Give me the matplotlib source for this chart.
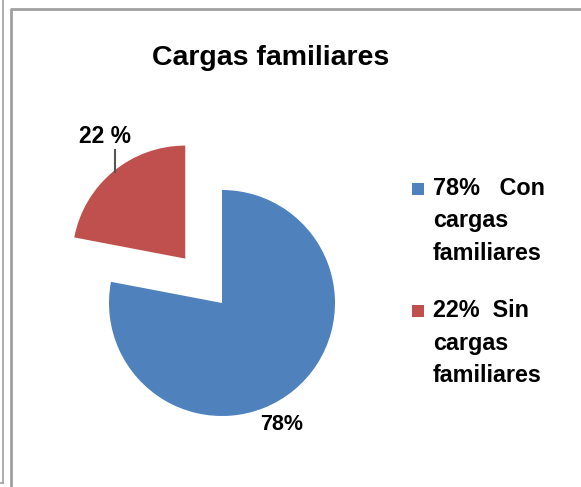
import matplotlib
matplotlib.use("Agg")
import matplotlib.pyplot as plt
from matplotlib.patches import Rectangle
from matplotlib.lines import Line2D

# Data
categories = ["Con cargas familiares", "Sin cargas familiares"]
values = [78, 22]
colors = ["#4F81BD", "#C0504D"]
legend_labels = [["78%   Con", "cargas", "familiares"], ["22%  Sin", "cargas", "familiares"]]
data_labels = ["78%", "22 %"]
title = "Cargas familiares"

W, H = 581, 487
fig = plt.figure(figsize=(W / 100, H / 100), dpi=100)
fig.patch.set_facecolor("white")
ax = fig.add_axes([0, 0, 1, 1])

def Y(y):
    return H - y

FONT = ["Liberation Sans", "DejaVu Sans"]

# Pie (explode offset is in data units here)
cx, cy, r = 222, 303, 113
ax.pie(values, colors=colors, startangle=90, counterclock=False,
       explode=[0, 0.51 * r], center=(cx, Y(cy)), radius=r,
       wedgeprops=dict(linewidth=0), frame=False)
ax.set_xlim(0, W)
ax.set_ylim(0, H)
ax.set_aspect("equal")
ax.axis("off")

# Title
ax.text(271, Y(65), title, ha="center", va="baseline", fontsize=20.5,
        fontweight="bold", family=FONT, color="black")

# Data labels
ax.text(282, Y(430), data_labels[0], ha="center", va="baseline", fontsize=15.5,
        fontweight="bold", family=FONT)
ax.text(105, Y(143), data_labels[1], ha="center", va="baseline", fontsize=16.5,
        fontweight="bold", family=FONT)
ax.plot([115, 115], [Y(150), Y(172)], color="#555555", lw=1.5)

# Legend (manual)
leg_baselines = [[195, 227, 260], [317, 350, 382]]
for lines, col, bl in zip(legend_labels, colors, leg_baselines):
    ax.add_patch(Rectangle((412, Y(bl[0])), 12, 12, facecolor=col, edgecolor="none"))
    for line, b in zip(lines, bl):
        ax.text(433, Y(b), line, ha="left", va="baseline", fontsize=16.8,
                fontweight="bold", family=FONT)

# Frames
fig.add_artist(Line2D([3 / W, 3 / W], [1, 1 - 483 / H], transform=fig.transFigure,
                      color="#A0A0A0", lw=1.2))
fig.add_artist(Line2D([0, 3 / W], [1 - 483 / H, 1 - 483 / H], transform=fig.transFigure,
                      color="#A0A0A0", lw=1.2))
fig.add_artist(Line2D([11 / W, 11 / W, 1], [0, 1 - 9 / H, 1 - 9 / H], transform=fig.transFigure,
                      color="#A0A0A0", lw=2))

fig.savefig("out.png", dpi=100)
